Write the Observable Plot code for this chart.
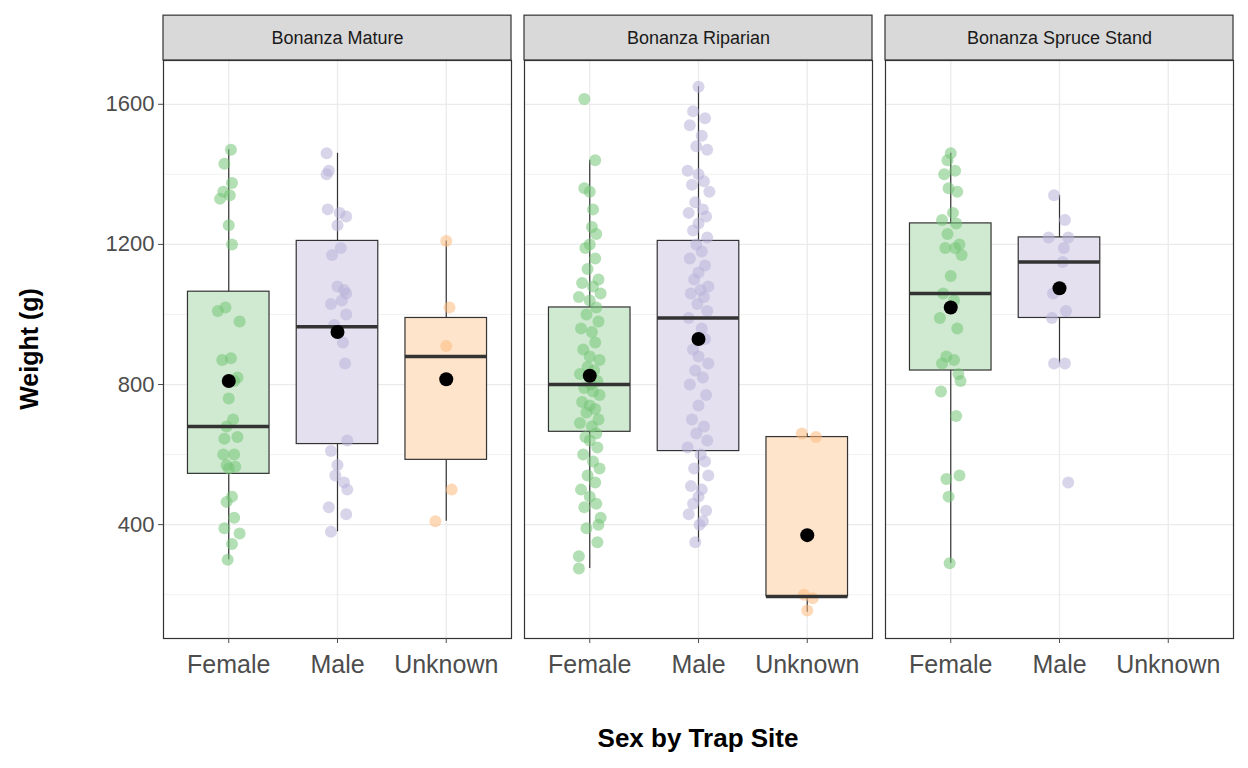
<!DOCTYPE html>
<html><head><meta charset="utf-8">
<script src="https://cdn.jsdelivr.net/npm/d3@7"></script>
<script src="https://cdn.jsdelivr.net/npm/@observablehq/plot@0.6"></script>
<style>body{margin:0;background:#fff;font-family:Arial,"Liberation Sans",sans-serif}</style>
</head><body><div id="chart"></div>
<script>
const sites = ["Bonanza Mature", "Bonanza Riparian", "Bonanza Spruce Stand"];
const sexes = ["Female", "Male", "Unknown"];
const colors = ["#74c476", "#b8b2d8", "#fdb97d"];
const fills = ["#cfead0", "#e4e0ef", "#fee4cb"];

// box groups: site index, sex index, whisker low, q1, median, q3, whisker high, mean
const boxSite = [0, 0, 0, 1, 1, 1, 2, 2];
const boxSex  = [0, 1, 2, 0, 1, 2, 0, 1];
const lo   = [300, 380, 410, 275, 350, 150, 290, 860];
const q1   = [545, 630, 585, 665, 610, 195, 840, 990];
const med  = [680, 965, 880, 800, 990, 195, 1060, 1150];
const q3   = [1065, 1210, 990, 1020, 1210, 650, 1260, 1220];
const hi   = [1470, 1460, 1210, 1440, 1650, 660, 1460, 1340];
const mean = [810, 950, 815, 825, 930, 370, 1020, 1075];

// jittered points: [offset, weight]
const matureF = [[0.02,1470],[-0.04,1430],[0.03,1375],[-0.05,1350],[-0.08,1330],[0.01,1340],[0.0,1255],[0.03,1200],[-0.1,1010],[-0.03,1020],[0.1,980],[0.02,875],[-0.06,870],[0.08,820],[0.05,810],[0.0,760],[0.04,700],[-0.02,680],[0.08,650],[-0.04,645],[0.05,600],[-0.05,600],[-0.02,570],[0.06,565],[0.0,560],[0.03,480],[-0.02,465],[0.05,420],[-0.04,390],[0.03,345],[-0.01,300],[0.1,375]];
const matureM = [[-0.1,1460],[-0.08,1410],[-0.1,1400],[-0.09,1300],[0.02,1290],[0.08,1280],[0.0,1255],[0.03,1190],[-0.05,1170],[0.0,1080],[0.06,1070],[0.08,1060],[0.04,1040],[-0.06,1030],[0.08,1000],[-0.03,970],[0.05,920],[0.07,860],[0.09,640],[-0.06,610],[0.0,570],[-0.02,540],[0.06,520],[0.09,500],[-0.08,450],[0.08,430],[-0.06,380]];
const matureU = [[0.0,1210],[0.03,1020],[0.0,910],[0.05,500],[-0.1,410]];
const riparF = [[-0.05,1615],[0.05,1440],[-0.05,1360],[0.0,1350],[0.03,1300],[0.02,1250],[0.06,1230],[0.0,1200],[-0.04,1190],[0.05,1160],[-0.02,1130],[0.08,1100],[-0.07,1090],[0.03,1080],[0.1,1060],[-0.1,1050],[0.0,1040],[0.06,1020],[-0.03,1000],[0.08,980],[-0.08,960],[0.02,950],[0.05,920],[-0.06,900],[0.0,880],[0.09,870],[-0.02,850],[0.04,840],[-0.09,830],[0.07,810],[0.01,800],[-0.05,790],[0.03,780],[0.09,770],[-0.07,750],[0.0,740],[0.05,730],[-0.03,720],[0.08,700],[-0.09,690],[0.02,680],[0.06,660],[-0.04,650],[0.0,640],[0.07,620],[-0.06,600],[0.03,580],[0.09,560],[-0.02,540],[0.05,520],[-0.08,500],[0.0,480],[0.06,460],[-0.05,450],[0.1,420],[0.08,400],[-0.03,390],[0.07,350],[-0.1,310],[-0.1,275]];
const riparM = [[0.0,1650],[-0.05,1580],[0.06,1560],[-0.08,1540],[0.03,1510],[-0.02,1480],[0.08,1470],[-0.1,1410],[0.0,1400],[0.05,1380],[-0.06,1370],[0.1,1350],[-0.03,1320],[0.04,1300],[-0.09,1290],[0.07,1280],[0.0,1260],[-0.05,1240],[0.08,1220],[-0.02,1200],[0.03,1180],[-0.08,1160],[0.06,1140],[0.0,1120],[-0.04,1100],[0.09,1080],[0.02,1070],[-0.07,1060],[0.05,1050],[-0.01,1030],[0.08,1010],[-0.09,990],[0.03,960],[0.06,930],[-0.05,900],[0.0,880],[0.09,860],[-0.03,840],[0.04,820],[-0.08,800],[0.07,770],[0.0,740],[-0.06,700],[0.05,680],[-0.02,660],[0.08,640],[-0.1,620],[0.02,600],[0.06,580],[-0.04,560],[0.09,540],[-0.07,510],[0.03,500],[0.0,480],[-0.05,460],[0.07,440],[-0.09,430],[0.04,410],[0.01,400],[-0.03,350]];
const riparU = [[-0.05,660],[0.08,650],[-0.03,200],[0.05,190],[0.0,155]];
const spruceF = [[0.0,1460],[-0.03,1440],[0.04,1410],[-0.06,1400],[-0.02,1360],[0.06,1350],[0.02,1290],[-0.08,1270],[0.05,1260],[-0.03,1230],[0.08,1200],[0.04,1190],[-0.05,1190],[0.1,1170],[0.0,1110],[-0.07,1060],[0.03,1040],[-0.1,990],[0.06,960],[-0.04,880],[0.03,870],[-0.08,860],[0.07,830],[0.09,810],[-0.09,780],[0.05,710],[0.08,540],[-0.04,530],[-0.02,480],[-0.01,290]];
const spruceM = [[-0.05,1340],[0.05,1270],[-0.1,1220],[0.08,1220],[0.04,1190],[0.03,1150],[-0.06,1060],[0.06,1010],[-0.07,990],[-0.05,860],[0.05,860],[0.08,520]];

const pointGroups = [[0,0,matureF],[0,1,matureM],[0,2,matureU],[1,0,riparF],[1,1,riparM],[1,2,riparU],[2,0,spruceF],[2,1,spruceM]];
const points = pointGroups.flatMap(([s, x, arr]) => arr.map(([j, w]) => ({site: sites[s], sex: x, x: x + 1 + j, w})));
const boxes = boxSite.map((s, i) => ({site: sites[s], sex: boxSex[i], x: boxSex[i] + 1,
  lo: lo[i], q1: q1[i], med: med[i], q3: q3[i], hi: hi[i], mean: mean[i]}));
const strips = sites.map(site => ({site}));

const yTop = 1725, stripTop = 1853;
const chart = Plot.plot({
  width: 1248, height: 768,
  marginTop: 15 + 45, marginLeft: 163, marginRight: 15, marginBottom: 130,
  style: {fontFamily: "Arial, 'Liberation Sans', sans-serif", background: "#fff"},
  fx: {domain: sites, paddingInner: 0.037, paddingOuter: 0, axis: null, label: null},
  x: {domain: [0.4, 3.6]},
  y: {domain: [75, yTop]},
  marks: [
    Plot.ruleY([200, 600, 1000, 1400], {stroke: "#f2f2f2", strokeWidth: 1}),
    Plot.ruleY([400, 800, 1200, 1600], {stroke: "#ebebeb", strokeWidth: 1.3}),
    Plot.ruleX([1, 2, 3], {stroke: "#ebebeb", strokeWidth: 1.3}),
    Plot.rect(strips, {fx: "site", x1: 0.4, x2: 3.6, y1: yTop, y2: stripTop, fill: "#d9d9d9", stroke: "#333", strokeWidth: 1.2}),
    Plot.text(strips, {fx: "site", x: 2, y: (yTop + stripTop) / 2, text: "site", fontSize: 18, fill: "#1a1a1a"}),
    Plot.ruleX(boxes, {fx: "site", x: "x", y1: "lo", y2: "hi", stroke: "#333", strokeWidth: 1.2}),
    Plot.rect(boxes, {fx: "site", x1: d => d.x - 0.375, x2: d => d.x + 0.375, y1: "q1", y2: "q3",
      fill: d => fills[d.sex], stroke: "#333", strokeWidth: 1.2}),
    Plot.dot(points, {fx: "site", x: "x", y: "w", r: 6, fill: d => colors[d.sex], fillOpacity: 0.55, stroke: "none"}),
    Plot.ruleY(boxes, {fx: "site", x1: d => d.x - 0.375, x2: d => d.x + 0.375, y: "med", stroke: "#333", strokeWidth: 3.5}),
    Plot.dot(boxes, {fx: "site", x: "x", y: "mean", r: 7, fill: "black"}),
    Plot.frame({stroke: "#333", strokeWidth: 1.2}),
    Plot.axisY({ticks: [400, 800, 1200, 1600], tickFormat: "d", tickSize: 5, fontSize: 22, color: "#4d4d4d", label: null, tickPadding: 4}),
    Plot.axisX({ticks: [1, 2, 3], tickFormat: d => sexes[d - 1], tickSize: 5, fontSize: 25, color: "#4d4d4d", label: null, tickPadding: 12}),
  ]
});
const svg = d3.select(chart);
svg.append("text").attr("transform", "translate(38,349) rotate(-90)").attr("text-anchor", "middle")
  .attr("font-size", 25).attr("font-weight", "bold").attr("fill", "#000").text("Weight (g)");
svg.append("text").attr("x", 698).attr("y", 747).attr("text-anchor", "middle")
  .attr("font-size", 26).attr("font-weight", "bold").attr("fill", "#000").text("Sex by Trap Site");
d3.select("#chart").append(() => chart);
</script></body></html>
